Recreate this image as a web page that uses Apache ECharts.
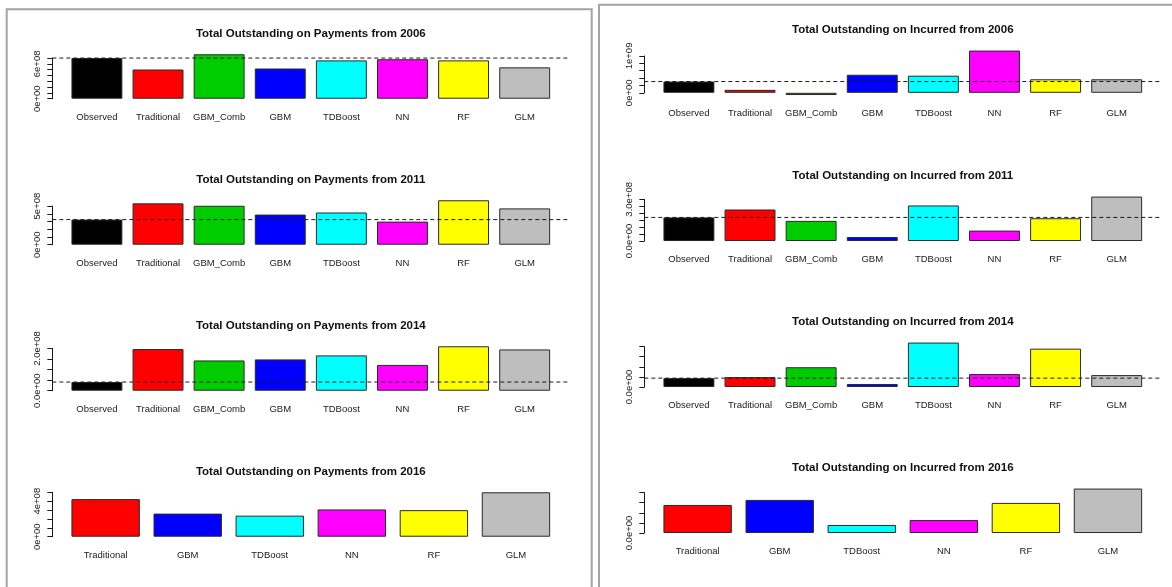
<!DOCTYPE html>
<html>
<head>
<meta charset="utf-8">
<script src="https://cdn.jsdelivr.net/npm/echarts@6/dist/echarts.min.js"></script>
<style>
html, body { margin: 0; padding: 0; background: #ffffff; }
#chart { width: 1172px; height: 587px; }
</style>
</head>
<body>
<div id="chart"></div>
<script>
// Methods compared in each panel
const methodsAll = ['Observed', 'Traditional', 'GBM_Comb', 'GBM', 'TDBoost', 'NN', 'RF', 'GLM'];
const methodsModels = ['Traditional', 'GBM', 'TDBoost', 'NN', 'RF', 'GLM'];
const colorsAll = ['#000000', '#FF0000', '#00CD00', '#0000FF', '#00FFFF', '#FF00FF', '#FFFF00', '#BEBEBE'];
const colorsModels = ['#FF0000', '#0000FF', '#00FFFF', '#FF00FF', '#FFFF00', '#BEBEBE'];

// Total outstanding on payments
const pay2006 = [7.00e8, 5.03e8, 7.65e8, 5.20e8, 6.60e8, 6.80e8, 6.60e8, 5.40e8];
const pay2011 = [3.25e8, 5.35e8, 5.04e8, 3.90e8, 4.17e8, 2.99e8, 5.75e8, 4.70e8];
const pay2014 = [0.41e8, 1.97e8, 1.43e8, 1.48e8, 1.67e8, 1.22e8, 2.10e8, 1.95e8];
const pay2016 = [4.23e8, 2.60e8, 2.37e8, 3.07e8, 2.99e8, 5.00e8];

// Total outstanding on incurred
const inc2006 = [3.05e8, 0.80e8, -0.60e8, 4.90e8, 4.64e8, 11.45e8, 3.67e8, 3.67e8];
const inc2011 = [1.70e8, 2.27e8, 1.45e8, 0.29e8, 2.56e8, 0.75e8, 1.64e8, 3.20e8];
const inc2014 = [0.44e8, 0.49e8, 0.98e8, 0.15e8, 2.20e8, 0.64e8, 1.90e8, 0.59e8];
const inc2016 = [1.39e8, 1.64e8, 0.40e8, 0.64e8, 1.49e8, 2.20e8];

// Y axis ticks and the labels printed at them
const pay2006Ticks = [0, 1e8, 2e8, 3e8, 4e8, 5e8, 6e8, 7e8];
const pay2006TickLabels = ['0e+00', '', '', '', '', '', '6e+08', ''];
const pay2011Ticks = [0, 1e8, 2e8, 3e8, 4e8, 5e8];
const pay2011TickLabels = ['0e+00', '', '', '', '', '5e+08'];
const pay2014Ticks = [0, 0.5e8, 1e8, 1.5e8, 2e8];
const pay2014TickLabels = ['0.0e+00', '', '', '', '2.0e+08'];
const pay2016Ticks = [0, 1e8, 2e8, 3e8, 4e8, 5e8];
const pay2016TickLabels = ['0e+00', '', '', '', '4e+08', ''];
const inc2006Ticks = [0, 2e8, 4e8, 6e8, 8e8, 10e8];
const inc2006TickLabels = ['0e+00', '', '', '', '', '1e+09'];
const inc2011Ticks = [0, 0.5e8, 1e8, 1.5e8, 2e8, 2.5e8, 3e8];
const inc2011TickLabels = ['0.0e+00', '', '', '', '', '', '3.0e+08'];
const inc2014Ticks = [0, 0.5e8, 1e8, 1.5e8, 2e8];
const inc2014TickLabels = ['0.0e+00', '', '', '', ''];
const inc2016Ticks = [0, 0.5e8, 1e8, 1.5e8, 2e8];
const inc2016TickLabels = ['0.0e+00', '', '', '', ''];

const panels = [
  { title: 'Total Outstanding on Payments from 2006', cats: methodsAll, colors: colorsAll, values: pay2006, obs: true, ticks: pay2006Ticks, tickLabels: pay2006TickLabels, col: 0, row: 0 },
  { title: 'Total Outstanding on Payments from 2011', cats: methodsAll, colors: colorsAll, values: pay2011, obs: true, ticks: pay2011Ticks, tickLabels: pay2011TickLabels, col: 0, row: 1 },
  { title: 'Total Outstanding on Payments from 2014', cats: methodsAll, colors: colorsAll, values: pay2014, obs: true, ticks: pay2014Ticks, tickLabels: pay2014TickLabels, col: 0, row: 2 },
  { title: 'Total Outstanding on Payments from 2016', cats: methodsModels, colors: colorsModels, values: pay2016, obs: false, ticks: pay2016Ticks, tickLabels: pay2016TickLabels, col: 0, row: 3 },
  { title: 'Total Outstanding on Incurred from 2006', cats: methodsAll, colors: colorsAll, values: inc2006, obs: true, ticks: inc2006Ticks, tickLabels: inc2006TickLabels, col: 1, row: 0 },
  { title: 'Total Outstanding on Incurred from 2011', cats: methodsAll, colors: colorsAll, values: inc2011, obs: true, ticks: inc2011Ticks, tickLabels: inc2011TickLabels, col: 1, row: 1 },
  { title: 'Total Outstanding on Incurred from 2014', cats: methodsAll, colors: colorsAll, values: inc2014, obs: true, ticks: inc2014Ticks, tickLabels: inc2014TickLabels, col: 1, row: 2 },
  { title: 'Total Outstanding on Incurred from 2016', cats: methodsModels, colors: colorsModels, values: inc2016, obs: false, ticks: inc2016Ticks, tickLabels: inc2016TickLabels, col: 1, row: 3 }
];

// Layout of the plot regions (pixels)
const FONT = '"Liberation Sans", Arial, Helvetica, sans-serif';
const INK = '#1a1a1a';
const COL_LEFT = [52.3, 644.3];
const COL_TOP = [52.5, 48.8];
const ROW_STEP = 146;
const PLOT_W = 517;
const PLOT_H = 48;

const grid = [], xAxis = [], yAxis = [], series = [], graphic = [];

// Panel frames
graphic.push({ type: 'rect', silent: true, shape: { x: 6.7, y: 9.3, width: 585, height: 620 },
  style: { fill: 'none', stroke: '#a3a3a3', lineWidth: 2 } });
graphic.push({ type: 'rect', silent: true, shape: { x: 599, y: 4.7, width: 620, height: 620 },
  style: { fill: 'none', stroke: '#a3a3a3', lineWidth: 2 } });

panels.forEach((p, k) => {
  const L = COL_LEFT[p.col];
  const T = COL_TOP[p.col] + ROW_STEP * p.row;
  const n = p.cats.length;

  // barplot-style user range: bars of width 1 separated by 0.2, 4% padding
  const W = 1.2 * n - 0.2;
  const ppu = PLOT_W / (1.08 * W);
  const bandLeft = L + (0.04 * W - 0.1) * ppu;
  const bandWidth = 1.2 * n * ppu;

  const lo = Math.min(0, ...p.values);
  const hi = Math.max(0, ...p.values);
  const pad = 0.04 * (hi - lo);
  const yMin = lo - pad, yMax = hi + pad;
  const px = v => T + (yMax - v) / (yMax - yMin) * PLOT_H;

  const step = p.ticks[1] - p.ticks[0];
  const topTick = p.ticks[p.ticks.length - 1];

  const gWide = 3 * k, gBand = 3 * k + 1, gAxis = 3 * k + 2;

  grid.push({ left: L, top: T, width: PLOT_W, height: PLOT_H });
  grid.push({ left: bandLeft, top: T, width: bandWidth, height: PLOT_H });
  grid.push({ left: L, top: px(topTick), width: 1, height: px(0) - px(topTick) });

  xAxis.push({ gridIndex: gWide, type: 'value', min: 0, max: 1, show: false });
  xAxis.push({
    gridIndex: gBand, type: 'category', data: p.cats,
    axisLine: { show: false }, axisTick: { show: false }, splitLine: { show: false },
    axisLabel: { interval: 0, margin: 11.5, fontSize: 9.5, color: INK, fontFamily: FONT }
  });
  xAxis.push({ gridIndex: gAxis, type: 'value', show: false });

  yAxis.push({ gridIndex: gWide, type: 'value', min: yMin, max: yMax, show: false });
  yAxis.push({ gridIndex: gBand, type: 'value', min: yMin, max: yMax, show: false });
  yAxis.push({
    gridIndex: gAxis, type: 'value', min: 0, max: topTick, interval: step,
    axisLine: { show: true, lineStyle: { color: INK, width: 1 } },
    axisTick: { show: true, length: 5, lineStyle: { color: INK, width: 1 } },
    splitLine: { show: false },
    axisLabel: {
      rotate: 90, margin: 9.5, fontSize: 9.5, color: INK, fontFamily: FONT,
      formatter: v => {
        const i = p.ticks.findIndex(t => Math.abs(t - v) < step * 1e-6);
        return i >= 0 ? p.tickLabels[i] : '';
      }
    }
  });

  series.push({
    type: 'bar', xAxisIndex: gBand, yAxisIndex: gBand,
    barCategoryGap: '16.667%',
    itemStyle: { borderColor: '#2a2a2a', borderWidth: 1 },
    data: p.values.map((v, i) => ({ value: v, itemStyle: { color: p.colors[i] } })),
    silent: true, z: 2
  });

  if (p.obs) {
    const obs = p.values[0];
    series.push({
      type: 'line', xAxisIndex: gWide, yAxisIndex: gWide,
      data: [[0, obs], [1, obs]], symbol: 'none', silent: true,
      lineStyle: { type: [4, 3], width: 1, color: INK }, z: 5
    });
  }

  graphic.push({
    type: 'text', silent: true, x: L + PLOT_W / 2, y: T - 18.5,
    style: {
      text: p.title, align: 'center', verticalAlign: 'middle',
      textAlign: 'center', textVerticalAlign: 'middle',
      font: 'bold 11.5px ' + FONT, fill: '#111111'
    }
  });
});

const chart = echarts.init(document.getElementById('chart'), null, { renderer: 'canvas' });
chart.setOption({
  animation: false,
  backgroundColor: '#ffffff',
  grid, xAxis, yAxis, series, graphic
});
</script>
</body>
</html>
